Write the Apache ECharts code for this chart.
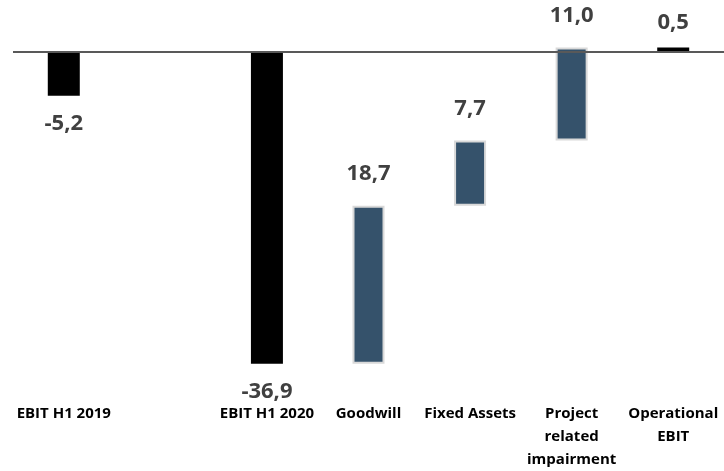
<!DOCTYPE html>
<html>
<head>
<meta charset="utf-8">
<script src="https://cdn.jsdelivr.net/npm/echarts@6/dist/echarts.min.js"></script>
<style>
  html, body { margin: 0; padding: 0; background: #fff; }
  #chart { width: 724px; height: 471px; }
</style>
</head>
<body>
<div id="chart"></div>
<script>
// 数据
var categories = ['EBIT H1 2019', '', 'EBIT H1 2020', 'Goodwill', 'Fixed Assets', 'Project\nrelated\nimpairment', 'Operational\nEBIT'];
var totals = [-5.2, null, -36.9, null, null, null, 0.5];
var deltas = [null, null, null, 18.7, 7.7, 11.0, null];

// 瀑布图的透明底座 = 上一个累计值
var base = [];
var running = 0;
for (var i = 0; i < categories.length; i++) {
  if (totals[i] !== null) {
    running = totals[i];
    base.push('-');
  } else if (deltas[i] !== null) {
    base.push(running);
    running = running + deltas[i];
  } else {
    base.push('-');
  }
}

function fmt(v) {
  return v.toFixed(1).replace('.', ',');
}

var labelFont = {
  fontFamily: 'Open Sans',
  fontWeight: 'bold',
  fontSize: 22,
  color: '#404040'
};

var totalData = totals.map(function (v) {
  if (v === null) return '-';
  return {
    value: v,
    label: Object.assign({
      show: true,
      position: v < 0 ? 'bottom' : 'top',
      distance: v < 0 ? 17 : 14,
      formatter: function (p) { return fmt(p.value); }
    }, labelFont)
  };
});

var deltaData = deltas.map(function (v) {
  return v === null ? '-' : v;
});

var chart = echarts.init(document.getElementById('chart'));

var option = {
  animation: false,
  grid: { left: 13, right: 0, top: 1, bottom: 79.7 },
  xAxis: {
    type: 'category',
    data: categories,
    axisLine: { show: false },
    axisTick: { show: false },
    axisLabel: {
      interval: 0,
      margin: 12,
      color: '#000',
      fontFamily: 'Open Sans',
      fontWeight: 'bold',
      fontSize: 15,
      lineHeight: 23
    }
  },
  yAxis: {
    type: 'value',
    min: -40,
    max: 6,
    show: false,
    splitLine: { show: false }
  },
  series: [
    {
      name: 'base',
      type: 'bar',
      stack: 'wf',
      stackStrategy: 'all',
      barWidth: 32,
      barGap: '-100%',
      z: 1,
      silent: true,
      itemStyle: { color: 'transparent' },
      data: base,
      markLine: {
        silent: true,
        symbol: 'none',
        label: { show: false },
        lineStyle: { color: '#595959', width: 2, type: 'solid' },
        data: [{ yAxis: 0 }]
      }
    },
    {
      name: 'delta',
      type: 'bar',
      stack: 'wf',
      stackStrategy: 'all',
      barWidth: 32,
      barGap: '-100%',
      z: 2,
      itemStyle: { color: '#35526b', borderColor: '#d9d9d9', borderWidth: 2 },
      label: Object.assign({
        show: true,
        position: 'top',
        distance: 21,
        formatter: function (p) { return fmt(p.value); }
      }, labelFont),
      data: deltaData
    },
    {
      name: 'total',
      type: 'bar',
      stack: 'tot',
      barWidth: 32,
      barGap: '-100%',
      z: 2,
      itemStyle: { color: '#000' },
      data: totalData
    }
  ]
};

chart.setOption(option);
</script>
</body>
</html>
